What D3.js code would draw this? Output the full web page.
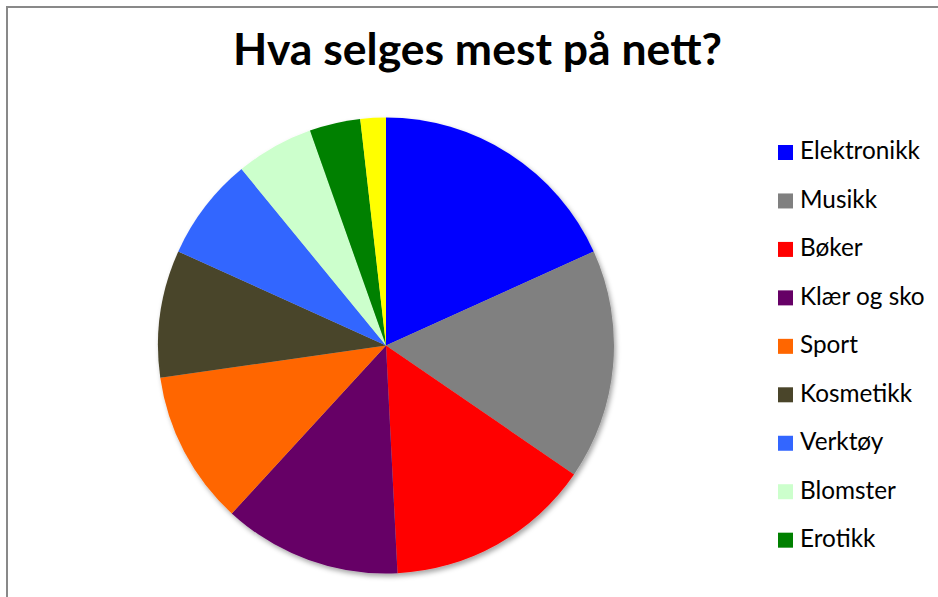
<!DOCTYPE html>
<html>
<head>
<meta charset="utf-8">
<script src="https://cdn.jsdelivr.net/npm/d3@7/dist/d3.min.js"></script>
<style>
  html, body { margin: 0; padding: 0; background: #fff; }
  svg { display: block; }
</style>
</head>
<body>
<svg id="chart" width="938" height="597"></svg>
<script>
// Share of online sales by product category (percent)
const categories = ["Elektronikk", "Musikk", "Bøker", "Klær og sko", "Sport",
                    "Kosmetikk", "Verktøy", "Blomster", "Erotikk", "Annet"];
const values = [18.2, 16.3, 14.6, 12.6, 10.9, 9.0, 7.3, 5.5, 3.6, 1.8];
const colors = ["#0000FF", "#808080", "#FF0000", "#660066", "#FF6600",
                "#4A452A", "#3366FF", "#CCFFCC", "#008000", "#FFFF00"];
const legendCount = 9; // the legend box only has room for the first nine entries
const title = "Hva selges mest på nett?";

const svg = d3.select("#chart");
const W = 938, H = 597;

// chart frame
svg.append("path")
  .attr("d", `M7,${H} L7,7 L${W},7`)
  .attr("fill", "none")
  .attr("stroke", "#898989")
  .attr("stroke-width", 2);

// soft shadow under the pie
const defs = svg.append("defs");
const f = defs.append("filter").attr("id", "shadow")
  .attr("x", "-10%").attr("y", "-10%").attr("width", "120%").attr("height", "120%");
f.append("feDropShadow")
  .attr("dx", 2).attr("dy", 3).attr("stdDeviation", 2.5)
  .attr("flood-color", "#000").attr("flood-opacity", 0.35);

// title, sized to its width
const t = svg.append("text")
  .attr("x", 477.5).attr("y", 65)
  .attr("text-anchor", "middle")
  .attr("font-family", "Lato, 'Open Sans', sans-serif")
  .attr("font-weight", "bold")
  .attr("font-size", 32)
  .attr("fill", "#000")
  .text(title);
const tw = t.node().getComputedTextLength();
t.attr("font-size", 32 * 489 / tw);

// pie
const cx = 386, cy = 345.5, r = 228;
const color = d3.scaleOrdinal().domain(categories).range(colors);
const pie = d3.pie().sort(null).value(d => d.value);
const arc = d3.arc().innerRadius(0).outerRadius(r);
const data = categories.map((c, i) => ({ name: c, value: values[i] }));

const g = svg.append("g")
  .attr("transform", `translate(${cx},${cy})`)
  .attr("filter", "url(#shadow)");
g.selectAll("path")
  .data(pie(data))
  .join("path")
  .attr("d", arc)
  .attr("fill", d => color(d.data.name));

// legend
const legendY = d3.scalePoint()
  .domain(categories.slice(0, legendCount))
  .range([152.5, 152.5 + 48.46 * (legendCount - 1)]);
const lg = svg.append("g");
const items = lg.selectAll("g")
  .data(categories.slice(0, legendCount))
  .join("g")
  .attr("transform", d => `translate(778,${legendY(d)})`);
items.append("rect")
  .attr("x", 0).attr("y", -7.5)
  .attr("width", 15).attr("height", 15)
  .attr("fill", d => color(d));
const lt = items.append("text")
  .attr("x", 22).attr("y", 6.8)
  .attr("font-family", "Lato, 'Open Sans', sans-serif")
  .attr("font-size", 21)
  .attr("fill", "#000")
  .text(d => d);
// scale legend text so "Elektronikk" spans ~120px
const ew = lt.filter(d => d === "Elektronikk").node().getComputedTextLength();
lt.attr("font-size", 21 * 120 / ew);
</script>
</body>
</html>
